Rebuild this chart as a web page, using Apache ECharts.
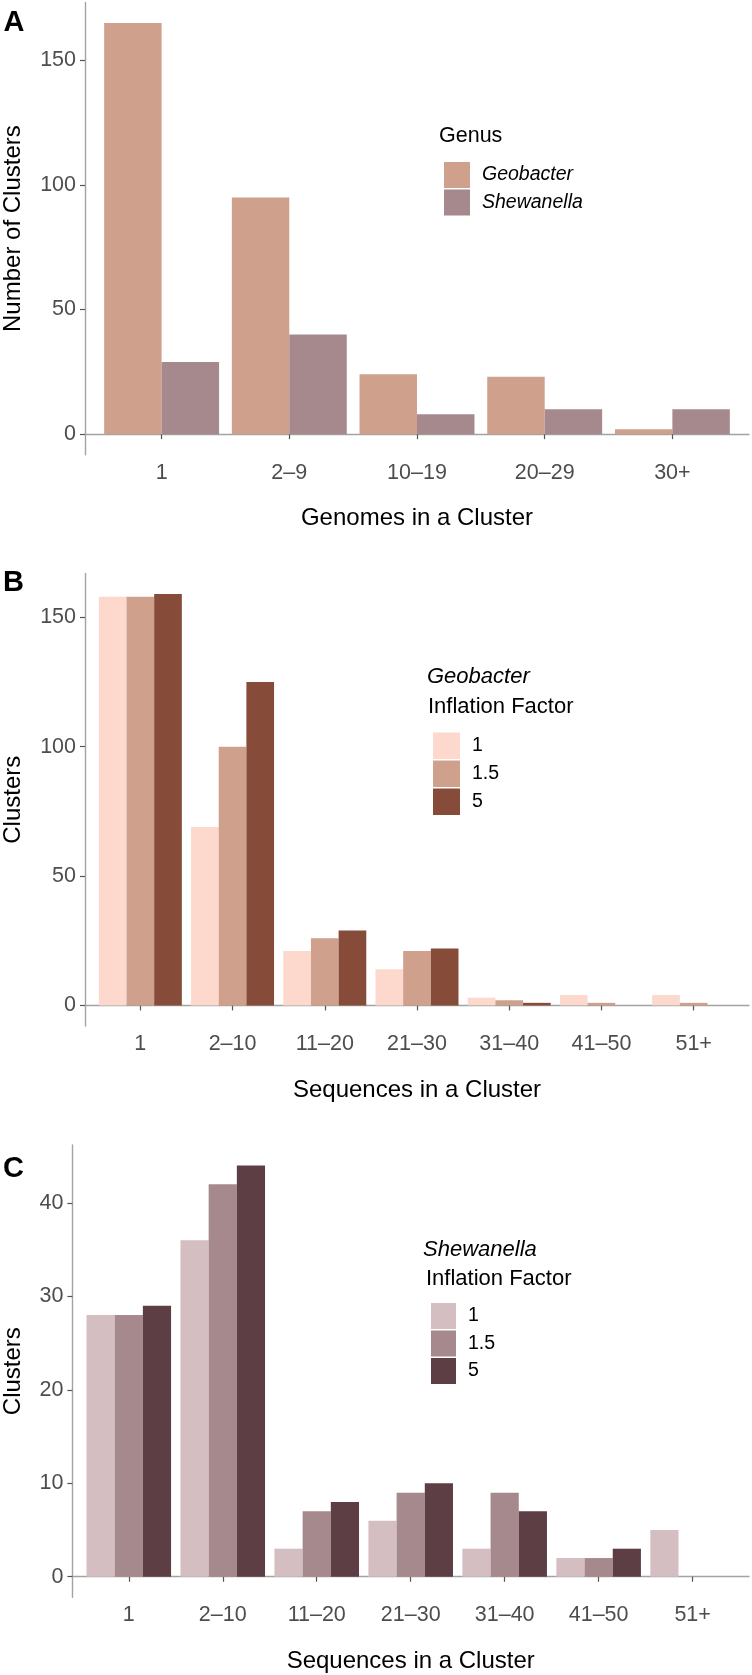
<!DOCTYPE html>
<html>
<head>
<meta charset="utf-8">
<script src="https://cdn.jsdelivr.net/npm/echarts@6/dist/echarts.min.js"></script>
<style>
  html, body { margin: 0; padding: 0; background: #fff; }
  #chart { width: 752px; height: 1675px; }
</style>
</head>
<body>
<div id="chart"></div>
<script>
// panel A: genomes per cluster
const genomeCats = ['1', '2–9', '10–19', '20–29', '30+']
const genusNames = ['Geobacter', 'Shewanella']
const geobacterGenomes = [165, 95, 24, 23, 2]
const shewanellaGenomes = [29, 40, 8, 10, 10]
const ticksA = [0, 50, 100, 150]

// panels B and C: sequences per cluster by inflation factor
const seqCats = ['1', '2–10', '11–20', '21–30', '31–40', '41–50', '51+']
const inflationNames = ['1', '1.5', '5']
const geoIf1 = [158, 69, 21, 14, 3, 4, 4]
const geoIf15 = [158, 100, 26, 21, 2, 1, 1]
const geoIf5 = [159, 125, 29, 22, 1, null, null]
const shewIf1 = [28, 36, 3, 6, 3, 2, 5]
const shewIf15 = [28, 42, 7, 9, 9, 2, null]
const shewIf5 = [29, 44, 8, 10, 7, 3, null]
const ticksB = [0, 50, 100, 150]
const ticksC = [0, 10, 20, 30, 40]

const font = "'Liberation Sans', Arial, Helvetica, sans-serif"
const lineColor = '#a3a3a3'

function xAxisFor(idx, cats, name) {
    const pos = cats.map((c, i) => i + 1)
    return {
        type: 'value',
        gridIndex: idx,
        min: 0.4,
        max: cats.length + 0.6,
        name: name,
        nameLocation: 'middle',
        nameGap: 52,
        nameTextStyle: { fontSize: 24, color: '#000' },
        axisLine: { show: true, lineStyle: { color: lineColor, width: 1.4 } },
        axisTick: { show: true, length: 5, customValues: pos, lineStyle: { color: '#555', width: 1.2 } },
        axisLabel: {
            customValues: pos,
            margin: 7,
            fontSize: 21.5,
            color: '#4d4d4d',
            formatter: v => cats[Math.round(v) - 1]
        },
        splitLine: { show: false }
    }
}

function yAxisFor(idx, maxVal, ticks, name, gap) {
    const pad = maxVal * 0.05
    return {
        type: 'value',
        gridIndex: idx,
        min: -pad,
        max: maxVal + pad,
        name: name,
        nameLocation: 'middle',
        nameGap: gap,
        nameRotate: 90,
        nameTextStyle: { fontSize: 24, color: '#000' },
        axisLine: { show: true, lineStyle: { color: lineColor, width: 1.4 } },
        axisTick: { show: true, length: 5, customValues: ticks, lineStyle: { color: '#555', width: 1.2 } },
        axisLabel: { customValues: ticks, margin: 9, fontSize: 21.5, color: '#4d4d4d' },
        splitLine: { show: false }
    }
}

function barSeries(idx, key, name, values, color) {
    return {
        type: 'bar',
        name: key + '|' + name,
        xAxisIndex: idx,
        yAxisIndex: idx,
        barGap: '0%',
        barCategoryGap: '10%',
        itemStyle: { color: color },
        emphasis: { disabled: true },
        data: values.map((v, i) => [i + 1, v]).filter(d => d[1] !== null)
    }
}

function legendFor(key, names, left, top, w, h, italic) {
    return {
        orient: 'vertical',
        left: left,
        top: top,
        icon: 'rect',
        itemWidth: w,
        itemHeight: h,
        itemGap: 1.5,
        selectedMode: false,
        data: names.map(n => key + '|' + n),
        formatter: n => n.split('|')[1],
        textStyle: { fontSize: 19.5, color: '#000', fontStyle: italic ? 'italic' : 'normal', padding: [0, 0, 0, 7] }
    }
}

function label(text, left, top, size, weight, style) {
    return {
        text: text,
        left: left,
        top: top,
        padding: 0,
        textStyle: { fontSize: size, color: '#000', fontWeight: weight || 'normal', fontStyle: style || 'normal', fontFamily: font }
    }
}

const maxA = Math.max(...geobacterGenomes, ...shewanellaGenomes)
const maxB = Math.max(...geoIf1, ...geoIf15, ...geoIf5)
const maxC = Math.max(...shewIf1, ...shewIf15, ...shewIf5)

const colorsA = ['#cfa08c', '#a5898d']
const colorsB = ['#fdd8cc', '#cfa08c', '#864c39']
const colorsC = ['#d4bec1', '#a5898d', '#5e3e45']

const chart = echarts.init(document.getElementById('chart'), null, { renderer: 'canvas' })
chart.setOption({
    animation: false,
    backgroundColor: '#fff',
    textStyle: { fontFamily: font },
    title: [
        label('A', 3.5, 8, 29, 'bold'),
        label('B', 3, 568.5, 29, 'bold'),
        label('C', 3, 1154.5, 29, 'bold'),
        label('Genus', 439, 125.5, 21.5),
        label('Geobacter', 427, 666, 22, 'normal', 'italic'),
        label('Inflation Factor', 428, 695.5, 22),
        label('Shewanella', 423, 1238.5, 22, 'normal', 'italic'),
        label('Inflation Factor', 426, 1267.5, 22)
    ],
    legend: [
        legendFor('A', genusNames, 439, 157, 26, 26, true),
        legendFor('B', inflationNames, 428, 727.5, 27, 26.5, false),
        legendFor('C', inflationNames, 426, 1298, 25, 26, false)
    ],
    grid: [
        { left: 85, top: 2.5, width: 664, height: 452.2, containLabel: false, outerBoundsMode: 'none' },
        { left: 85, top: 573.5, width: 664, height: 452.5, containLabel: false, outerBoundsMode: 'none' },
        { left: 72.4, top: 1145, width: 676.6, height: 452.3, containLabel: false, outerBoundsMode: 'none' }
    ],
    xAxis: [
        xAxisFor(0, genomeCats, 'Genomes in a Cluster'),
        xAxisFor(1, seqCats, 'Sequences in a Cluster'),
        xAxisFor(2, seqCats, 'Sequences in a Cluster')
    ],
    yAxis: [
        yAxisFor(0, maxA, ticksA, 'Number of Clusters', 60),
        yAxisFor(1, maxB, ticksB, 'Clusters', 60),
        yAxisFor(2, maxC, ticksC, 'Clusters', 47.5)
    ],
    series: [
        barSeries(0, 'A', genusNames[0], geobacterGenomes, colorsA[0]),
        barSeries(0, 'A', genusNames[1], shewanellaGenomes, colorsA[1]),
        barSeries(1, 'B', inflationNames[0], geoIf1, colorsB[0]),
        barSeries(1, 'B', inflationNames[1], geoIf15, colorsB[1]),
        barSeries(1, 'B', inflationNames[2], geoIf5, colorsB[2]),
        barSeries(2, 'C', inflationNames[0], shewIf1, colorsC[0]),
        barSeries(2, 'C', inflationNames[1], shewIf15, colorsC[1]),
        barSeries(2, 'C', inflationNames[2], shewIf5, colorsC[2])
    ]
})
</script>
</body>
</html>
